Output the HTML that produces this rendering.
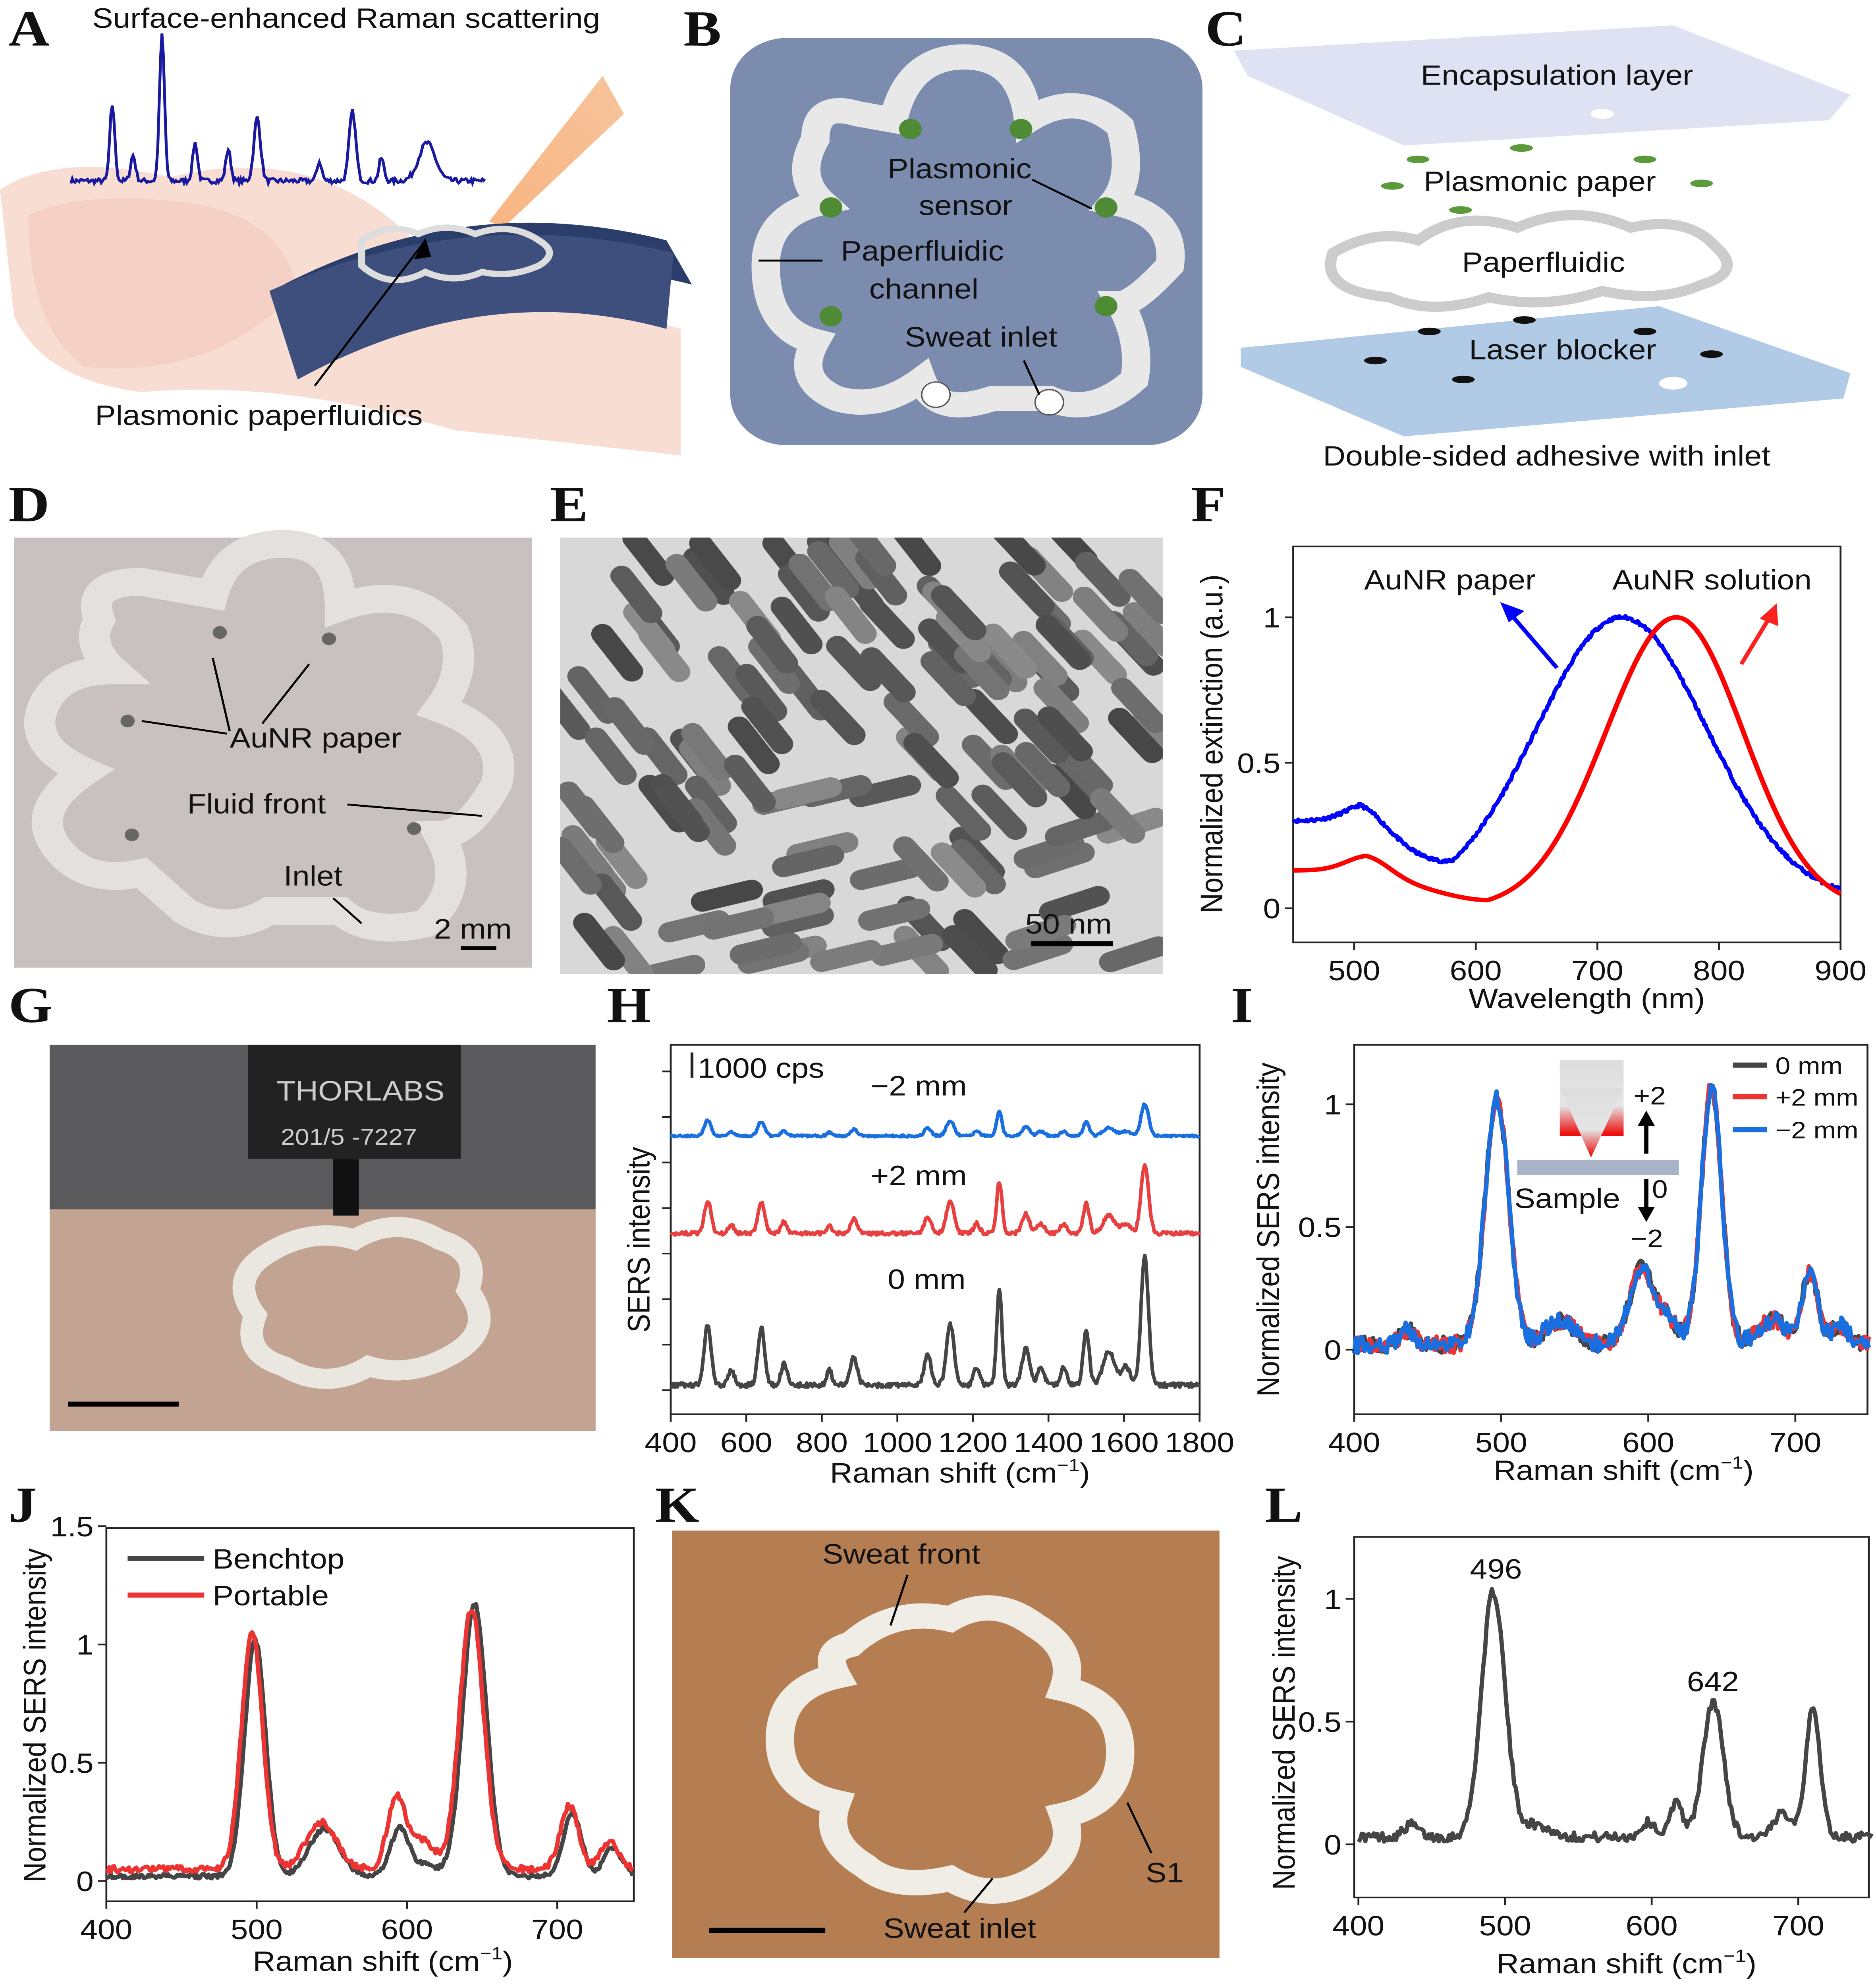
<!DOCTYPE html>
<html><head><meta charset="utf-8">
<style>
html,body{margin:0;padding:0;background:#fff;overflow:hidden;}
svg{display:block;position:fixed;left:0;top:0;width:100vw;height:100vh;}
text{font-family:"Liberation Sans",sans-serif;fill:#111;}
.L{font-family:"Liberation Serif",serif;font-weight:bold;font-size:40px;}
</style></head><body>
<svg id="s" viewBox="0 0 1323 1570" preserveAspectRatio="none" xmlns="http://www.w3.org/2000/svg">
<defs>
<linearGradient id="beam" x1="0" y1="0" x2="0" y2="1"><stop offset="0" stop-color="#ddd"/><stop offset="0.6" stop-color="#e5e5e5"/><stop offset="1" stop-color="#e00"/></linearGradient>
<linearGradient id="las" x1="1" y1="0" x2="0" y2="1"><stop offset="0" stop-color="#f5b98a"/><stop offset="1" stop-color="#f7a86a"/></linearGradient>
<clipPath id="ce"><rect x="395" y="425" width="425" height="345"/></clipPath>
</defs>
<rect width="1323" height="1570" fill="#fff"/>
<!-- A -->
<path d="M0,150 Q40,120 120,140 Q230,110 300,200 L480,260 L480,360 L320,340 Q200,300 100,310 Q30,300 10,250 Z" fill="#f8ddd3"/>
<path d="M20,170 Q60,150 130,160 Q200,170 210,230 Q150,300 60,290 Q20,260 20,170Z" fill="#f3cabd" opacity="0.6"/>
<polygon points="345,175 425,60 440,90 355,180" fill="url(#las)" opacity="0.85"/>
<path d="M200,225 Q330,150 470,190 L488,225 Q350,185 220,280 Z" fill="#2b3e6b"/>
<path d="M190,230 Q330,160 475,200 L470,260 Q340,220 210,300 Z" fill="#3e4f7d"/>
<path d="M255,190 q20,-15 40,-5 q20,-10 40,0 q25,-10 45,5 q15,10 0,20 q-20,10 -40,5 q-20,10 -40,0 q-25,15 -45,-5z" fill="none" stroke="#ddd" stroke-width="5"/>
<line x1="222" y1="305" x2="300" y2="190" stroke="#000" stroke-width="1.5"/>
<polygon points="300,188 292,205 304,203" fill="#000"/>
<text x="65" y="22" font-size="22">Surface-enhanced Raman scattering</text>
<text x="67" y="336" font-size="22">Plasmonic paperfluidics</text>
<path id="pa" fill="none" stroke="#1818a0" stroke-width="2"/>
<!-- B -->
<rect x="515" y="30" width="333" height="322" rx="40" fill="#7b8cae"/>
<path d="M575,110 Q575,80 605,90 L630,95 Q640,45 680,45 Q720,45 725,95 Q760,70 790,100 Q800,140 785,160 Q830,170 825,210 Q800,240 790,240 Q805,270 800,300 Q770,330 740,315 L700,315 Q660,330 650,300 Q620,325 590,315 Q560,300 575,270 Q540,260 540,210 Q540,170 580,160 Q560,140 575,110Z" fill="none" stroke="#e8e8e8" stroke-width="20"/>
<g fill="#4f8a35"><circle cx="642" cy="102" r="8"/><circle cx="720" cy="102" r="8"/><circle cx="586" cy="164" r="8"/><circle cx="780" cy="164" r="8"/><circle cx="586" cy="250" r="8"/><circle cx="780" cy="242" r="8"/></g>
<circle cx="660" cy="312" r="10" fill="#fff" stroke="#555"/><circle cx="740" cy="318" r="10" fill="#fff" stroke="#555"/>
<text x="626" y="141" font-size="22">Plasmonic</text><text x="648" y="170" font-size="22">sensor</text>
<text x="593" y="206" font-size="22">Paperfluidic</text><text x="613" y="236" font-size="22">channel</text>
<text x="638" y="274" font-size="22">Sweat inlet</text>
<line x1="728" y1="142" x2="770" y2="165" stroke="#000" stroke-width="1.5"/>
<line x1="580" y1="206" x2="535" y2="206" stroke="#000" stroke-width="1.5"/>
<line x1="722" y1="285" x2="733" y2="312" stroke="#000" stroke-width="1.5"/>
<!-- C -->
<polygon points="870,40 1180,20 1305,75 1290,95 990,115 880,60" fill="#dfe2f2"/>
<ellipse cx="1130" cy="90" rx="8" ry="4" fill="#fff"/>
<text x="1002" y="67" font-size="22">Encapsulation layer</text>
<g fill="#5a9a3a"><ellipse cx="1073" cy="117" rx="8" ry="3"/><ellipse cx="1000" cy="126" rx="8" ry="3"/><ellipse cx="1160" cy="126" rx="8" ry="3"/><ellipse cx="982" cy="147" rx="8" ry="3"/><ellipse cx="1200" cy="145" rx="8" ry="3"/><ellipse cx="1030" cy="166" rx="8" ry="3"/></g>
<text x="1004" y="151" font-size="22">Plasmonic paper</text>
<path d="M940,200 q30,-20 60,-10 q30,-25 70,-10 q40,-20 80,0 q40,-10 60,15 q20,20 -10,30 q-30,15 -70,5 q-40,15 -80,5 q-40,15 -70,0 q-50,-5 -40,-35z" fill="none" stroke="#ccc" stroke-width="8"/>
<text x="1031" y="215" font-size="22">Paperfluidic</text>
<polygon points="875,275 1170,242 1305,295 1300,315 990,345 875,290" fill="#b1cbe6"/>
<g fill="#111"><ellipse cx="1075" cy="253" rx="8" ry="3"/><ellipse cx="1008" cy="262" rx="8" ry="3"/><ellipse cx="1160" cy="262" rx="8" ry="3"/><ellipse cx="970" cy="285" rx="8" ry="3"/><ellipse cx="1207" cy="280" rx="8" ry="3"/><ellipse cx="1032" cy="300" rx="8" ry="3"/></g>
<ellipse cx="1180" cy="303" rx="10" ry="5" fill="#fff"/>
<text x="1036" y="284" font-size="22">Laser blocker</text>
<text x="933" y="368" font-size="22">Double-sided adhesive with inlet</text>
<!-- D -->
<rect x="10" y="425" width="365" height="340" fill="#c9c1c1"/>
<path d="M70,490 Q60,460 100,460 L150,470 Q160,430 200,430 Q240,430 240,480 Q290,460 320,500 Q330,530 310,560 Q360,580 350,620 Q330,660 310,660 Q330,700 300,730 Q260,740 240,720 L190,720 Q160,740 130,720 Q110,700 100,690 Q60,700 40,670 Q20,640 60,610 Q20,590 30,560 Q40,530 80,530 Q60,510 70,490Z" fill="none" stroke="#e4e0e0" stroke-width="22"/>
<g fill="#666"><circle cx="155" cy="500" r="5"/><circle cx="232" cy="505" r="5"/><circle cx="90" cy="570" r="5"/><circle cx="292" cy="655" r="5"/><circle cx="93" cy="660" r="5"/></g>
<text x="162" y="591" font-size="22">AuNR paper</text>
<text x="132" y="643" font-size="22">Fluid front</text>
<text x="200" y="700" font-size="22">Inlet</text>
<text x="306" y="742" font-size="22">2 mm</text>
<rect x="325" y="748" width="25" height="3" fill="#000"/>
<g stroke="#000" stroke-width="1.5"><line x1="162" y1="578" x2="150" y2="520"/><line x1="185" y1="572" x2="218" y2="525"/><line x1="160" y1="580" x2="100" y2="570"/><line x1="245" y1="636" x2="340" y2="645"/><line x1="235" y1="710" x2="255" y2="730"/></g>
<!-- E -->
<rect x="395" y="425" width="425" height="345" fill="#d8d8d8"/>
<g id="rods" clip-path="url(#ce)"></g>
<text x="723" y="738" font-size="22">50 nm</text>
<rect x="727" y="744" width="58" height="4" fill="#000"/>
<!-- G -->
<rect x="35" y="826" width="385" height="305" fill="#9a8c86"/>
<rect x="35" y="826" width="385" height="130" fill="#5a5a5c"/>
<rect x="35" y="956" width="385" height="175" fill="#c3a493"/>
<rect x="175" y="826" width="150" height="90" fill="#222"/>
<rect x="235" y="916" width="18" height="45" fill="#111"/>
<text x="195" y="870" font-size="22" style="fill:#ccc">THORLABS</text>
<text x="198" y="905" font-size="18" style="fill:#ccc">201/5  -7227</text>
<path d="M190,990 q30,-20 60,-10 q30,-20 60,0 q30,10 20,40 q20,30 -10,50 q-30,20 -60,10 q-30,20 -60,0 q-30,-10 -20,-40 q-20,-30 10,-50z" fill="none" stroke="#eae6e0" stroke-width="16"/>
<rect x="48" y="1108" width="78" height="4" fill="#000"/>
<!-- K -->
<rect x="474" y="1210" width="386" height="338" fill="#b47e52"/>
<path d="M600,1300 q30,-30 70,-20 q30,-20 60,5 q30,20 20,50 q40,10 40,50 q0,40 -40,50 q10,30 -20,50 q-30,20 -60,0 q-40,10 -60,-10 q-30,-20 -20,-50 q-40,-10 -40,-50 q0,-40 40,-50 q-10,-20 10,-25z" fill="none" stroke="#f0ece6" stroke-width="20"/>
<text x="580" y="1236" font-size="22">Sweat front</text>
<text x="808" y="1488" font-size="22">S1</text>
<text x="623" y="1532" font-size="22">Sweat inlet</text>
<rect x="500" y="1524" width="82" height="4" fill="#000"/>
<g stroke="#000" stroke-width="1.5"><line x1="640" y1="1245" x2="628" y2="1285"/><line x1="812" y1="1465" x2="795" y2="1425"/><line x1="680" y1="1512" x2="700" y2="1485"/></g>
<g id="charts"></g>
<!-- Letters -->
<text class="L" x="6" y="36">A</text><text class="L" x="482" y="36">B</text><text class="L" x="850" y="36">C</text>
<text class="L" x="6" y="412">D</text><text class="L" x="388" y="412">E</text><text class="L" x="840" y="412">F</text>
<text class="L" x="6" y="808">G</text><text class="L" x="428" y="808">H</text><text class="L" x="868" y="808">I</text>
<text class="L" x="6" y="1203">J</text><text class="L" x="462" y="1203">K</text><text class="L" x="892" y="1203">L</text>
</svg>
<script>
var NS="http://www.w3.org/2000/svg",C=document.getElementById('charts');
function el(t,a,p,txt){var e=document.createElementNS(NS,t);for(var k in a)e.setAttribute(k,a[k]);if(txt!=null)e.textContent=txt;(p||C).appendChild(e);return e;}
var seed=7;function rnd(){seed=(seed*16807)%2147483647;return seed/2147483647-0.5;}
function g(x,c,w,h){return h*Math.exp(-Math.pow((x-c)/w,2)/2);}
function curve(f,x0,x1,n,X,Y,col,sw){var d='';for(var i=0;i<=n;i++){var x=x0+(x1-x0)*i/n;d+=(i?'L':'M')+X(x).toFixed(2)+','+Y(f(x)).toFixed(2);}el('path',{d:d,fill:'none',stroke:col,'stroke-width':sw||2.5,'stroke-linejoin':'round'});}
function box(x0,y0,x1,y1){el('rect',{x:x0,y:y0,width:x1-x0,height:y1-y0,fill:'none',stroke:'#222','stroke-width':1.3});}
function xt(X,vals,y1,fs){vals.forEach(function(v){var x=X(v);el('line',{x1:x,y1:y1,x2:x,y2:y1+6,stroke:'#222','stroke-width':1.3});el('text',{x:x,y:y1+30,'font-size':fs||22,'text-anchor':'middle'},null,String(v));});}
function yt(Y,vals,x0,lab){vals.forEach(function(v,i){var y=Y(v);el('line',{x1:x0-6,y1:y,x2:x0,y2:y,stroke:'#222','stroke-width':1.3});el('text',{x:x0-9,y:y+8,'font-size':22,'text-anchor':'end'},null,lab[i]);});}
function ylab(x,y,t){el('text',{x:0,y:0,'font-size':22,'text-anchor':'middle',transform:'translate('+x+','+y+') rotate(-90)'},null,t);}
function xl(x,y){var e=el('text',{x:x,y:y,'font-size':22,'text-anchor':'middle'});e.innerHTML='Raman shift (cm<tspan dy="-9" font-size="14">\u22121</tspan><tspan dy="9">)</tspan>';}
// A spectrum
(function(){var d='';for(var i=0;i<=300;i++){var x=i/300;var v=g(x,0.1,0.006,60)+g(x,0.22,0.006,115)+g(x,0.45,0.008,50)+g(x,0.68,0.008,55)+g(x,0.86,0.02,30)+g(x,0.15,0.006,20)+g(x,0.3,0.006,30)+g(x,0.38,0.006,25)+g(x,0.6,0.006,15)+g(x,0.75,0.006,18)+rnd()*4;d+=(i?'L':'M')+(50+x*292).toFixed(1)+','+(143-v).toFixed(1);}document.getElementById('pa').setAttribute('d',d);})();
// E rods
(function(){var R=document.getElementById('rods');seed=3;
for(var i=0;i<140;i++){var cx=398+(rnd()+0.5)*420,cy=428+(rnd()+0.5)*340;var a;
if(cx+0.6*(cy-430)<650)a=-35;else if(cy>620&&cx<640)a=75;else if(cx>700&&cy>650)a=70;else a=-40;
var sh=Math.round(70+(rnd()+0.5)*70);el('rect',{x:-8,y:-26,width:16,height:52,rx:8,fill:'rgb('+sh+','+sh+','+sh+')',transform:'translate('+cx+','+cy+') rotate('+a+')'},R);}})();
// F
(function(){var X=function(v){return 955+(v-500)*0.8575},Y=function(v){return 718-v*230};box(912,432,1298,745);
function low(x){if(x<505)return 0.3;if(x>580)return 0.03;return 0.3-0.27*(x-505)/75;}
seed=11;curve(function(x){return low(x)+g(x,512,18,0.05)+g(x,720,70,0.97)+rnd()*0.012},450,900,450,X,Y,'#0000ff',3);
function rlow(x){if(x<510)return 0.13;if(x>610)return 0;return 0.13*(1-(x-510)/100);}
curve(function(x){return rlow(x)+g(x,512,18,0.05)+g(x,765,x<765?58:55,1)},450,900,300,X,Y,'#ff0000',3.5);
xt(X,[500,600,700,800,900],745);yt(Y,[0,0.5,1],912,['0','0.5','1']);
el('text',{x:1119,y:797,'font-size':22,'text-anchor':'middle'},null,'Wavelength (nm)');ylab(862,588,'Normalized extinction (a.u.)');
el('text',{x:962,y:466,'font-size':22},null,'AuNR paper');el('text',{x:1137,y:466,'font-size':22},null,'AuNR solution');
el('line',{x1:1098,y1:528,x2:1065,y2:485,stroke:'#0000ff','stroke-width':3});el('polygon',{points:'1058,476 1075,483 1064,492',fill:'#0000ff'});
el('line',{x1:1228,y1:525,x2:1248,y2:488,stroke:'#ff2020','stroke-width':3});el('polygon',{points:'1253,477 1254,495 1241,489',fill:'#ff2020'});})();
// H
(function(){var X=function(v){return 473+(v-400)*0.2664};box(473,826,846,1118);
var pk=[[498,9,1],[560,8,0.25],[640,9,0.95],[700,8,0.35],[820,7,0.25],[885,9,0.45],[1080,9,0.5],[1140,10,1.0],[1210,8,0.3],[1270,7,1.6],[1340,10,0.6],[1380,9,0.3],[1440,8,0.3],[1500,8,0.9],[1560,15,0.55],[1605,12,0.3],[1655,10,2.1]];
function sp(x,s){var v=0;pk.forEach(function(p){v+=g(x,p[0],p[1],p[2])});return v*s+rnd()*0.08;}
seed=5;curve(function(x){return sp(x,0.55)},400,1800,560,X,function(v){return 898-v*22},'#1a6fe0',2.5);
curve(function(x){return sp(x,0.68)},400,1800,560,X,function(v){return 975-v*38},'#e84040',2.5);
curve(function(x){return sp(x,1)},400,1800,560,X,function(v){return 1095-v*48},'#454545',2.5);
for(var y=847;y<1115;y+=36)el('line',{x1:467,y1:y,x2:473,y2:y,stroke:'#222','stroke-width':1.3});
xt(X,[400,600,800,1000,1200,1400,1600,1800],1118);xl(677,1172);ylab(458,980,'SERS intensity');
el('rect',{x:487,y:832,width:2,height:20,fill:'#222'});el('text',{x:492,y:852,'font-size':22},null,'1000 cps');
el('text',{x:614,y:866,'font-size':22},null,'\u22122 mm');el('text',{x:614,y:937,'font-size':22},null,'+2 mm');el('text',{x:626,y:1019,'font-size':22},null,'0 mm');})();
// I
(function(){var X=function(v){return 955+(v-400)*1.037},Y=function(v){return 1067-v*194};box(955,826,1317,1118);
function sp(x){return g(x,497,8,1)+g(x,540,10,0.1)+g(x,436,5,0.06)+g(x,595,8,0.3)+g(x,612,8,0.1)+g(x,643,7,1.05)+g(x,685,10,0.1)+g(x,710,5,0.3)+g(x,730,6,0.08)+0.02;}
[['#454545',21],['#ee3333',33],['#1a6fe0',45]].forEach(function(c){seed=c[1];curve(function(x){return sp(x)+rnd()*0.07},400,750,300,X,Y,c[0],3);});
xt(X,[400,500,600,700],1118);yt(Y,[0,0.5,1],955,['0','0.5','1']);xl(1145,1170);ylab(902,972,'Normalized SERS intensity');
el('rect',{x:1100,y:838,width:45,height:60,fill:'url(#beam)'});el('polygon',{points:'1100,860 1145,860 1122,915',fill:'url(#beam)'});
el('rect',{x:1070,y:917,width:114,height:12,fill:'#a9b3c8'});el('text',{x:1068,y:955,'font-size':22},null,'Sample');
el('line',{x1:1161,y1:912,x2:1161,y2:888,stroke:'#000','stroke-width':3});el('polygon',{points:'1155,890 1167,890 1161,878',fill:'#000'});
el('line',{x1:1161,y1:932,x2:1161,y2:956,stroke:'#000','stroke-width':3});el('polygon',{points:'1155,954 1167,954 1161,966',fill:'#000'});
el('text',{x:1152,y:873,'font-size':20},null,'+2');el('text',{x:1165,y:947,'font-size':20},null,'0');el('text',{x:1150,y:986,'font-size':20},null,'\u22122');
[['#454545','0 mm',848],['#ee3333','+2 mm',873],['#1a6fe0','\u22122 mm',899]].forEach(function(l){el('line',{x1:1222,y1:l[2]-6,x2:1246,y2:l[2]-6,stroke:l[0],'stroke-width':4});el('text',{x:1252,y:l[2]+1,'font-size':19},null,l[1]);});})();
// J
(function(){var X=function(v){return 75+(v-400)*1.06},Y=function(v){return 1487-v*187};box(75,1208,447,1503);
function sp(x,r){return g(x,497,7,1)+g(x,543,10,0.2)+g(x,593,6,r?0.3:0.2)+g(x,610,8,r?0.12:0.05)+g(x,643,8,r?1.1:1.15)+g(x,708,6,0.27)+g(x,735,6,0.12)+(r?0.05:0.02);}
seed=2;curve(function(x){return sp(x-2,0)+rnd()*0.02},400,750,350,X,Y,'#454545',3);
seed=9;curve(function(x){return sp(x,1)+rnd()*0.03},400,750,350,X,Y,'#ee3333',3);
xt(X,[400,500,600,700],1503);yt(Y,[0,0.5,1,1.5],75,['0','0.5','1','1.5']);xl(270,1558);ylab(32,1356,'Normalized SERS intensity');
el('line',{x1:90,y1:1232,x2:144,y2:1232,stroke:'#454545','stroke-width':4});el('text',{x:150,y:1240,'font-size':22},null,'Benchtop');
el('line',{x1:90,y1:1261,x2:144,y2:1261,stroke:'#ee3333','stroke-width':4});el('text',{x:150,y:1269,'font-size':22},null,'Portable');})();
// L
(function(){var X=function(v){return 958+(v-400)*1.034},Y=function(v){return 1458-v*194};box(955,1215,1318,1500);
function sp(x){return g(x,492,8,1)+g(x,520,10,0.05)+g(x,436,5,0.05)+g(x,598,5,0.06)+g(x,617,4,0.15)+g(x,642,7,0.55)+g(x,690,6,0.1)+g(x,710,5,0.52)+0.03;}
seed=17;curve(function(x){return sp(x)+rnd()*0.04},400,750,300,X,Y,'#454545',3);
xt(X,[400,500,600,700],1500);yt(Y,[0,0.5,1],955,['0','0.5','1']);xl(1147,1560);ylab(913,1362,'Normalized SERS intensity');
el('text',{x:1055,y:1248,'font-size':22,'text-anchor':'middle'},null,'496');el('text',{x:1208,y:1337,'font-size':22,'text-anchor':'middle'},null,'642');})();
</script>
</body></html>
